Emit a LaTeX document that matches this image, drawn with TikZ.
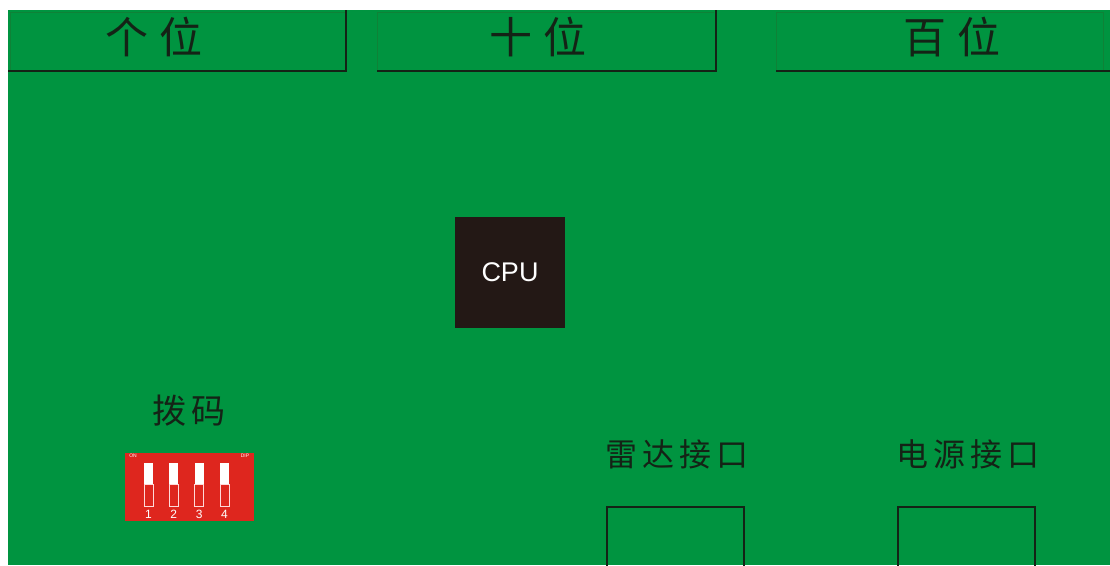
\documentclass[tikz,border=0pt]{standalone}
\usepackage{fontspec}
\newfontfamily\cjk{Noto Sans CJK SC}
\setsansfont{Liberation Sans}
\definecolor{board}{RGB}{0,148,64}
\definecolor{chip}{RGB}{35,24,21}
\definecolor{dipred}{RGB}{222,38,30}
\definecolor{ink}{RGB}{20,35,22}
\definecolor{faint}{RGB}{15,130,55}
\tikzset{
  thinedge/.style={draw=faint, line width=0.8pt},
  thickedge/.style={draw=ink, line width=2pt},
  hdr/.style={font=\cjk\fontsize{43}{43}\selectfont, text=ink, inner sep=0pt},
  lbl/.style={font=\cjk\fontsize{32}{32}\selectfont, text=ink, inner sep=0pt},
  port/.style={draw=ink, line width=1.8pt},
  slot/.style={draw=white!85!red, line width=0.6pt},
}
\begin{document}
\begin{tikzpicture}[x=1pt,y=-1pt]
\useasboundingbox (0,0) rectangle (1110,565);
\fill[white] (0,0) rectangle (1110,565);
\fill[board] (8,10) rectangle (1110,565);
% header boxes
\draw[thinedge] (10,70) -- (10,12) -- (345,12);
\draw[thickedge] (8,71) -- (346,71) -- (346,10);
\draw[thinedge] (377,70) -- (377,12) -- (714,12);
\draw[thickedge] (377,71) -- (716,71) -- (716,10);
\draw[thinedge] (776,70) -- (776,12) -- (1103,12) -- (1103,70);
\draw[thickedge] (776,71) -- (1110,71);
\node[hdr] (ge) at (154,37) {个\hspace{11pt}位};
\node[hdr] (shi) at (538,37) {十\hspace{11pt}位};
\node[hdr] (bai) at (952,37) {百\hspace{11pt}位};
% CPU
\node[fill=chip, minimum width=110pt, minimum height=111pt, inner sep=0pt,
      text=white, font=\sffamily\fontsize{27}{27}\selectfont] (cpu) at (510,272.5) {CPU};
% DIP switch
\node[fill=dipred, minimum width=129pt, minimum height=68pt, inner sep=0pt] (dip) at (189.5,487) {};
\node[text=white, font=\sffamily\fontsize{5}{5}\selectfont, inner sep=0pt] (on) at (133,456) {ON};
\node[text=white, font=\sffamily\fontsize{5}{5}\selectfont, inner sep=0pt] (diptxt) at (245,456) {DIP};
\foreach \i/\x in {1/144,2/169.3,3/194.6,4/220}{
  \fill[white] (\x,463) rectangle ++(9,21);
  \draw[slot] (\x,484) rectangle ++(9,22);
  \node[text=white, font=\sffamily\fontsize{12}{12}\selectfont, inner sep=0pt] (n\i) at (\x+4.5,514.5) {\i};
}
\node[font=\cjk\fontsize{34}{34}\selectfont, text=ink, inner sep=0pt] (bama) at (189,411) {拨\hspace{6pt}码};
% ports
\node[lbl] (radar) at (677,454) {雷\hspace{5pt}达\hspace{5pt}接\hspace{5pt}口};
\node[lbl] (power) at (968,454) {电\hspace{5pt}源\hspace{5pt}接\hspace{5pt}口};
\draw[port] (607,566) -- (607,507) -- (744,507) -- (744,566);
\draw[port] (898,566) -- (898,507) -- (1035,507) -- (1035,566);
\end{tikzpicture}
\end{document}
